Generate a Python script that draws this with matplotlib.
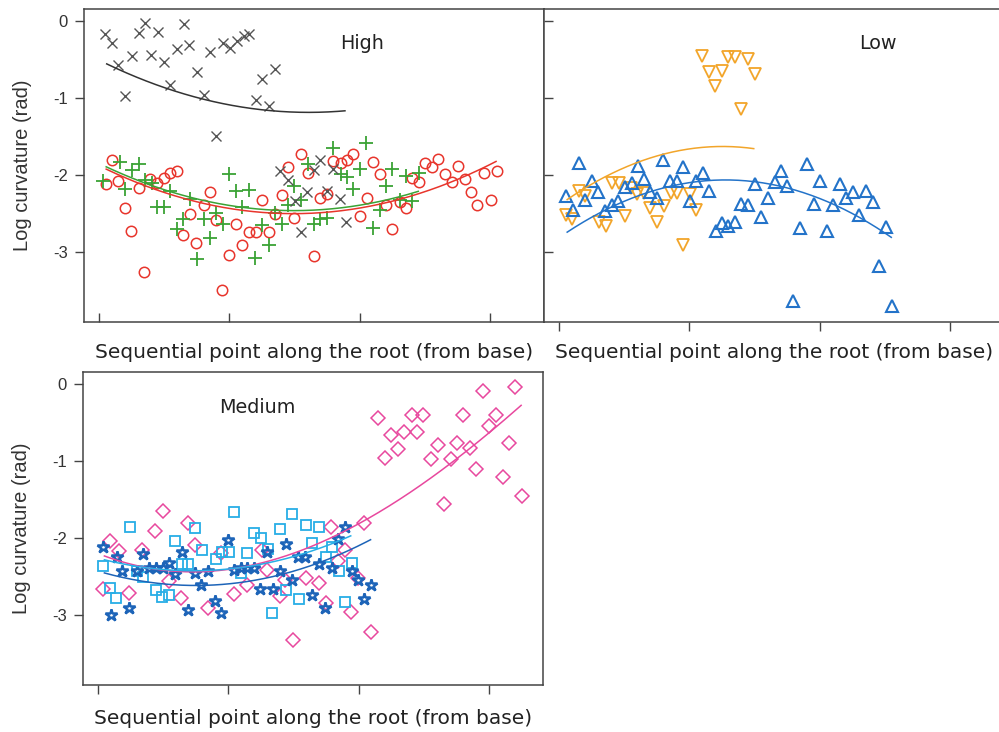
import numpy as np
import matplotlib
matplotlib.use("Agg")
import matplotlib.pyplot as plt

plt.rcParams['axes.unicode_minus'] = False

#==============================================================================
# Curvature along the root, by group

# High - gray crosses
high_gray_x = [2.5, 5.0, 7.6, 10.2, 12.7, 15.3, 17.8, 20.1, 22.9, 25.1, 27.4, 30.0, 32.8,
               34.8, 37.6, 40.2, 42.5, 45.0, 47.6, 50.4, 52.9, 55.7, 57.8, 60.2, 62.5,
               65.1, 67.6, 69.5, 72.7, 75.3, 77.5, 80.0, 82.6, 84.9, 87.7, 90.0, 92.5, 94.8]
high_gray_y = [-0.17, -0.29, -0.57, -0.97, -0.46, -0.16, -0.03, -0.44, -0.15, -0.53, -0.83,
               -0.37, -0.05, -0.32, -0.66, -0.96, -0.40, -1.49, -0.29, -0.36, -0.27, -0.20,
               -0.17, -1.03, -0.75, -1.11, -0.63, -1.95, -2.06, -2.33, -2.74, -2.22, -1.93,
               -1.80, -2.21, -1.92, -2.31, -2.60]

# High - red circles
high_red_x = [2.9, 5.0, 7.6, 10.2, 12.5, 15.3, 17.4, 19.7, 22.3, 25.1, 27.4, 30.0, 32.5,
              35.1, 37.4, 40.2, 42.7, 45.0, 47.4, 50.1, 52.6, 55.1, 57.7, 60.2, 62.5, 65.1,
              67.6, 70.2, 72.7, 75.0, 77.6, 80.1, 82.6, 84.9, 87.7, 90.0, 92.8, 95.3, 97.6,
              100.2, 102.8, 105.3, 107.9, 110.2, 112.6, 115.5, 117.7, 120.2, 122.8, 125.1,
              127.7, 130.2, 132.8, 135.3, 137.9, 140.4, 142.7, 145.1, 147.7, 150.3, 152.8]
high_red_y = [-2.11, -1.81, -2.07, -2.42, -2.72, -2.16, -3.25, -2.05, -2.10, -2.04, -1.97,
              -1.94, -2.78, -2.50, -2.88, -2.38, -2.22, -2.58, -3.48, -3.03, -2.63, -2.91,
              -2.73, -2.73, -2.32, -2.74, -2.50, -2.26, -1.90, -2.55, -1.73, -1.97, -3.05,
              -2.29, -2.25, -1.82, -1.84, -1.81, -1.73, -2.53, -2.30, -1.83, -1.98, -2.38,
              -2.70, -2.35, -2.42, -2.04, -2.09, -1.84, -1.89, -1.79, -1.98, -2.09, -1.88,
              -2.05, -2.22, -2.39, -1.97, -2.32, -1.95]

# High - green plus
high_green_x = [1.8, 8.2, 10.2, 12.7, 15.3, 17.8, 20.4, 22.3, 25.1, 27.4, 30.0, 32.5, 35.1,
                37.6, 40.2, 42.5, 45.0, 47.8, 50.1, 52.6, 55.1, 57.7, 60.0, 62.5, 65.1,
                67.6, 70.2, 72.7, 75.0, 77.6, 80.1, 82.6, 84.9, 87.7, 90.0, 92.8, 95.3,
                97.6, 100.2, 102.5, 105.3, 107.9, 110.2, 112.6, 115.5, 117.7, 120.2, 122.8]
high_green_y = [-2.08, -1.83, -2.18, -1.93, -1.86, -2.06, -2.10, -2.41, -2.41, -2.21, -2.70,
                -2.57, -2.31, -3.09, -2.57, -2.81, -2.49, -2.63, -1.98, -2.21, -2.41, -2.19,
                -3.07, -2.65, -2.90, -2.49, -2.63, -2.38, -2.14, -2.32, -1.86, -2.63, -2.57,
                -2.55, -1.65, -1.98, -2.02, -2.18, -1.92, -1.59, -2.69, -2.45, -2.14, -1.92,
                -2.32, -2.01, -2.34, -1.97]

# Low - orange down triangles
low_orange_x = [2.7, 5.2, 7.8, 10.3, 15.4, 18.0, 20.5, 23.1, 25.3, 27.6, 30.2, 32.7, 35.2,
                37.8, 40.4, 42.9, 45.5, 47.8, 50.2, 52.8, 55.1, 57.6, 60.1, 62.7, 65.0,
                67.6, 70.0, 72.5, 75.1]
low_orange_y = [-2.51, -2.57, -2.21, -2.27, -2.60, -2.66, -2.10, -2.10, -2.53, -2.17, -2.25,
                -2.23, -2.42, -2.60, -2.40, -2.23, -2.23, -2.90, -2.25, -2.45, -0.46, -0.67,
                -0.85, -0.65, -0.47, -0.47, -1.14, -0.50, -0.69]

# Low - blue up triangles
low_blue_x = [2.7, 5.5, 7.8, 10.3, 12.9, 15.2, 17.7, 20.3, 22.9, 25.4, 28.0, 30.3, 32.7,
              35.2, 37.8, 40.1, 42.6, 45.2, 47.8, 50.2, 52.8, 55.3, 57.6, 60.2, 62.7, 65.0,
              67.6, 70.1, 72.5, 75.1, 77.7, 80.2, 82.8, 85.1, 87.6, 89.9, 92.4, 95.3, 97.8,
              100.1, 102.7, 105.2, 107.8, 110.3, 112.9, 115.3, 117.9, 120.4, 122.7, 125.3,
              127.8]
low_blue_y = [-2.27, -2.45, -1.84, -2.32, -2.07, -2.22, -2.47, -2.38, -2.34, -2.15, -2.10,
              -1.88, -2.05, -2.22, -2.29, -1.81, -2.07, -2.07, -1.89, -2.34, -2.08, -1.97,
              -2.21, -2.72, -2.62, -2.66, -2.60, -2.37, -2.39, -2.11, -2.54, -2.29, -2.09,
              -1.95, -2.14, -3.63, -2.69, -1.86, -2.37, -2.07, -2.72, -2.38, -2.11, -2.29,
              -2.22, -2.52, -2.21, -2.35, -3.17, -2.67, -3.69]

# Medium - pink diamonds
med_pink_x = [2.0, 4.7, 8.1, 12.2, 17.0, 22.0, 24.9, 27.3, 32.0, 34.8, 37.2, 42.3, 47.3,
              52.3, 57.4, 62.8, 64.9, 69.7, 71.7, 74.7, 79.9, 84.7, 87.5, 89.5, 92.2, 94.7,
              97.0, 99.8, 102.1, 104.8, 107.6, 110.0, 112.4, 115.1, 117.6, 120.3, 122.4,
              124.8, 127.6, 130.3, 132.6, 135.4, 137.7, 140.2, 142.6, 144.9, 147.7, 150.0,
              152.7, 155.2, 157.7, 160.0, 162.7]
med_pink_y = [-2.66, -2.04, -2.17, -2.71, -2.15, -1.91, -1.65, -2.56, -2.77, -1.81, -2.09,
              -2.90, -2.19, -2.72, -2.60, -2.15, -2.41, -2.75, -2.54, -3.32, -2.51, -2.58,
              -2.84, -1.85, -2.30, -2.15, -2.96, -2.51, -1.80, -3.21, -0.45, -0.96, -0.67,
              -0.84, -0.63, -0.40, -0.63, -0.40, -0.98, -0.79, -1.56, -0.98, -0.77, -0.41,
              -0.83, -1.10, -0.09, -0.55, -0.40, -1.21, -0.77, -0.05, -1.45]

# Medium - cyan squares
med_cyan_x = [2.1, 4.7, 7.2, 12.3, 15.0, 17.5, 22.3, 24.8, 27.4, 29.7, 32.2, 34.8, 37.4,
              39.9, 45.3, 47.8, 50.4, 52.3, 54.9, 57.4, 60.0, 62.5, 65.1, 67.0, 69.8, 72.3,
              74.6, 77.2, 79.8, 82.3, 84.9, 87.4, 90.0, 92.5, 94.8, 97.6]
med_cyan_y = [-2.36, -2.64, -2.78, -1.85, -2.42, -2.50, -2.67, -2.76, -2.73, -2.04, -2.34,
              -2.34, -1.87, -2.15, -2.27, -2.18, -2.18, -1.66, -2.45, -2.19, -1.93, -2.00,
              -2.14, -2.97, -1.88, -2.67, -1.69, -2.79, -1.83, -2.06, -1.85, -2.24, -2.11,
              -2.43, -2.83, -2.32]

# Medium - dark blue stars
med_star_x = [2.0, 5.1, 7.4, 9.5, 12.2, 14.9, 17.3, 19.7, 22.5, 24.9, 27.3, 29.6, 32.3,
              34.8, 37.2, 39.8, 42.3, 44.8, 47.4, 49.8, 52.3, 55.0, 57.4, 59.8, 62.1, 64.9,
              67.2, 70.0, 72.1, 74.5, 76.9, 79.5, 82.3, 84.7, 87.0, 89.9, 92.3, 94.7, 97.3,
              99.8, 102.1, 104.8]
med_star_y = [-2.11, -3.00, -2.24, -2.43, -2.90, -2.43, -2.21, -2.39, -2.39, -2.39, -2.32,
              -2.47, -2.18, -2.93, -2.45, -2.60, -2.42, -2.81, -2.97, -2.03, -2.41, -2.39,
              -2.39, -2.39, -2.66, -2.18, -2.66, -2.42, -2.08, -2.54, -2.24, -2.24, -2.73,
              -2.34, -2.90, -2.39, -2.01, -1.85, -2.42, -2.54, -2.79, -2.60]

# Trend curves: (x, y) readings along each fitted line, and polynomial degree
trend_high_gray = ([3.1, 27.4, 51.6, 64.4, 94.4], [-0.57, -0.87, -1.10, -1.18, -1.16], 2)
trend_high_red = ([2.9, 35.0, 70.8, 118.0, 152.3], [-1.92, -2.32, -2.51, -2.27, -1.83], 2)
trend_high_green = ([2.9, 35.0, 68.3, 122.5], [-1.89, -2.29, -2.45, -2.21], 2)
trend_low_orange = ([3.3, 33.3, 52.5, 74.8], [-2.32, -1.78, -1.67, -1.65], 2)
trend_low_blue = ([3.3, 28.2, 58.9, 97.2, 127.5], [-2.75, -2.27, -2.08, -2.27, -2.80], 2)
trend_med_pink = ([2.6, 44.0, 89.5, 101.7, 132.0, 162.3], [-2.24, -2.39, -2.04, -1.80, -1.06, -0.30], 3)
trend_med_cyan = ([2.6, 49.8, 97.0], [-2.28, -2.40, -1.97], 2)
trend_med_star = ([2.6, 41.6, 104.6], [-2.45, -2.61, -2.02], 2)

xticks = [0, 50, 100, 150]
yticks = [0, -1, -2, -3]
yticklabels = ['0', '-1', '-2', '-3']

#==============================================================================
# Styles

c_gray = '#555555'
c_red = '#e8352c'
c_green = '#3aa335'
c_orange = '#f2a52a'
c_blue = '#2373c9'
c_pink = '#e8489e'
c_cyan = '#27aee6'
c_star = '#1d64b8'

XLIM = (-5.6, 170.7)
YLIM = (-3.9, 0.15)
spine_col = '#444444'
xlab = "Sequential point along the root (from base)"


def trend(ax, tr, color, lw=1.1):
    tx, ty, deg = tr
    coef = np.polyfit(tx, ty, deg)
    xx = np.linspace(tx[0], tx[-1], 200)
    ax.plot(xx, np.polyval(coef, xx), color=color, lw=lw, zorder=3)


def setup(ax, xdir, ylabels, ydir='out', label_y=-0.068):
    ax.set_xlim(XLIM)
    ax.set_ylim(YLIM)
    ax.set_xticks(xticks)
    ax.set_xticklabels([])
    ax.set_yticks(yticks)
    for s in ax.spines.values():
        s.set_color(spine_col)
        s.set_linewidth(1.1)
    ax.tick_params(axis='x', direction=xdir, length=6.5, width=1.0, color=spine_col)
    ax.tick_params(axis='y', direction=ydir, length=6.5, width=1.0, color=spine_col,
                   labelsize=12, pad=5, labelcolor='#333333')
    if ylabels:
        ax.set_yticklabels(yticklabels, fontfamily='Liberation Sans')
        ax.set_ylabel("Log curvature (rad)", fontsize=14.5, fontfamily='Liberation Sans',
                      color='#333333')
        ax.yaxis.set_label_coords(-0.113, 0.5)
    else:
        ax.set_yticklabels([])
    ax.set_xlabel(xlab, fontsize=14.5, fontfamily='DejaVu Sans', color='#222222')
    ax.xaxis.set_label_coords(0.5, label_y)


fig = plt.figure(figsize=(9.99, 7.32), dpi=100)

#------------------------------------------------------------------------------
# High

ax1 = fig.add_axes([0.0841, 0.5601, 0.4605, 0.4276])
ax1.plot(high_red_x, high_red_y, 'o', ms=7.5, mfc='none', mec=c_red, mew=1.1)
ax1.plot(high_green_x, high_green_y, '+', ms=10, mew=1.3, color=c_green)
ax1.plot(high_gray_x, high_gray_y, 'x', ms=7, mew=1.0, color=c_gray)
trend(ax1, trend_high_gray, '#333333')
trend(ax1, trend_high_green, c_green)
trend(ax1, trend_high_red, c_red)
ax1.text(0.604, 0.891, "High", transform=ax1.transAxes, ha='center', va='center',
         fontsize=13.8, color='#222222')
setup(ax1, 'in', True)

#------------------------------------------------------------------------------
# Low

ax2 = fig.add_axes([0.5445, 0.5601, 0.4605, 0.4276])
ax2.plot(low_orange_x, low_orange_y, 'v', ms=8, mfc='none', mec=c_orange, mew=1.3)
ax2.plot(low_blue_x, low_blue_y, '^', ms=8, mfc='none', mec=c_blue, mew=1.5)
trend(ax2, trend_low_orange, c_orange)
trend(ax2, trend_low_blue, c_blue)
ax2.text(0.726, 0.891, "Low", transform=ax2.transAxes, ha='center', va='center',
         fontsize=13.8, color='#222222')
setup(ax2, 'out', False, ydir='in')

#------------------------------------------------------------------------------
# Medium

ax3 = fig.add_axes([0.0831, 0.0642, 0.4605, 0.4276])
ax3.plot(med_pink_x, med_pink_y, 'D', ms=7, mfc='none', mec=c_pink, mew=1.1)
ax3.plot(med_cyan_x, med_cyan_y, 's', ms=6.8, mfc='none', mec=c_cyan, mew=1.3)
ax3.plot(med_star_x, med_star_y, '*', ms=9, mfc='none', mec=c_star, mew=1.8)
trend(ax3, trend_med_pink, c_pink)
trend(ax3, trend_med_cyan, c_cyan)
trend(ax3, trend_med_star, c_star)
ax3.text(0.378, 0.885, "Medium", transform=ax3.transAxes, ha='center', va='center',
         fontsize=13.8, color='#222222')
setup(ax3, 'out', True, label_y=-0.077)

plt.savefig("out.png", dpi=100)
